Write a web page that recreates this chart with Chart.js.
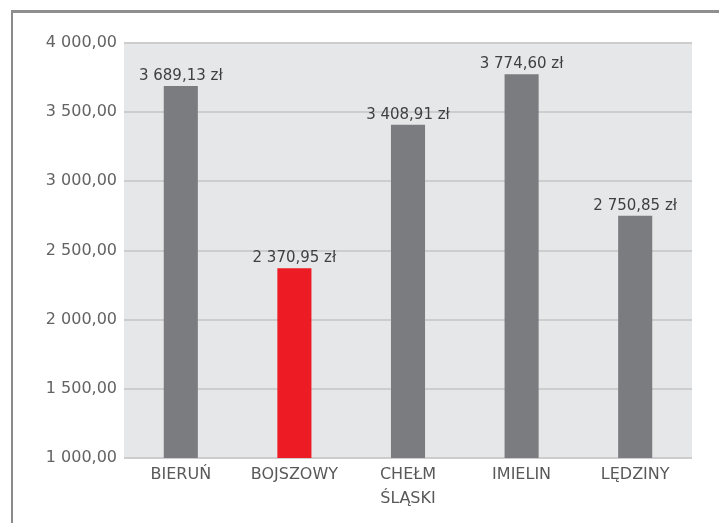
<!DOCTYPE html>
<html>
<head>
<meta charset="utf-8">
<script src="https://cdn.jsdelivr.net/npm/chart.js@4.4.0/dist/chart.umd.min.js"></script>
<style>
    html, body { margin: 0; padding: 0; background: #fff; }
    #frame {
        position: absolute; left: 11px; top: 10px; width: 900px; height: 700px;
        border-top: 3px solid #8f8f8f; border-left: 2px solid #8a8a8a;
    }
    #wrap { position: absolute; left: 0; top: 0; width: 719px; height: 523px; }
</style>
</head>
<body>
<div id="frame"></div>
<div id="wrap"><canvas id="chart" width="719" height="523"></canvas></div>
<script>
// data
var gminy = ['BIERUŃ', 'BOJSZOWY', ['CHEŁM', 'ŚLĄSKI'], 'IMIELIN', 'LĘDZINY'];
var kwoty = [3689.13, 2370.95, 3408.91, 3774.60, 2750.85];
var koloryBar = ['#7b7c7f', '#ed1c24', '#7b7c7f', '#7b7c7f', '#7b7c7f'];
var yMin = 1000, yMax = 4000, yStep = 500;

function plFormat(v) {
    var parts = v.toFixed(2).split('.');
    var calk = parts[0].replace(/\B(?=(\d{3})+(?!\d))/g, ' ');
    return calk + ',' + parts[1];
}

// grey plot background
var plotBg = {
    id: 'plotBg',
    beforeDraw: function (chart) {
        var a = chart.chartArea, c = chart.ctx;
        c.save();
        c.fillStyle = '#e6e7e8';
        c.fillRect(a.left, a.top, a.right - a.left, a.bottom - a.top);
        c.restore();
    }
};

// value labels over bars
var valueLabels = {
    id: 'valueLabels',
    afterDatasetsDraw: function (chart) {
        var c = chart.ctx;
        var meta = chart.getDatasetMeta(0);
        c.save();
        c.font = '15px "DejaVu Sans"';
        c.fillStyle = '#3f3f3f';
        c.textAlign = 'center';
        c.textBaseline = 'alphabetic';
        meta.data.forEach(function (bar, i) {
            c.fillText(plFormat(kwoty[i]) + ' zł', bar.x, bar.y - 6);
        });
        c.restore();
    }
};

var ctx = document.getElementById('chart');

new Chart(ctx, {
    type: 'bar',
    data: {
        labels: gminy,
        datasets: [{
            data: kwoty,
            backgroundColor: koloryBar,
            borderWidth: 0,
            barPercentage: 0.3,
            categoryPercentage: 1.0
        }]
    },
    options: {
        responsive: false,
        animation: false,
        layout: { padding: { top: 43, right: 27, left: 0, bottom: 0 } },
        plugins: {
            legend: { display: false },
            tooltip: { enabled: false }
        },
        scales: {
            x: {
                grid: { display: false },
                border: { display: false },
                ticks: {
                    color: '#595959',
                    font: { family: 'DejaVu Sans', size: 16, lineHeight: 1.5 },
                    padding: -3,
                    maxRotation: 0,
                    autoSkip: false
                },
                afterFit: function (scale) { scale.height = 65; }
            },
            y: {
                min: yMin,
                max: yMax,
                grid: { color: '#cdcdcd', lineWidth: 2, drawTicks: false },
                border: { display: false },
                ticks: {
                    stepSize: yStep,
                    color: '#636363',
                    font: { family: 'DejaVu Sans', size: 16 },
                    padding: 7,
                    callback: function (v) { return plFormat(v); }
                },
                afterFit: function (scale) { scale.width = 124; }
            }
        }
    },
    plugins: [plotBg, valueLabels]
});
</script>
</body>
</html>
